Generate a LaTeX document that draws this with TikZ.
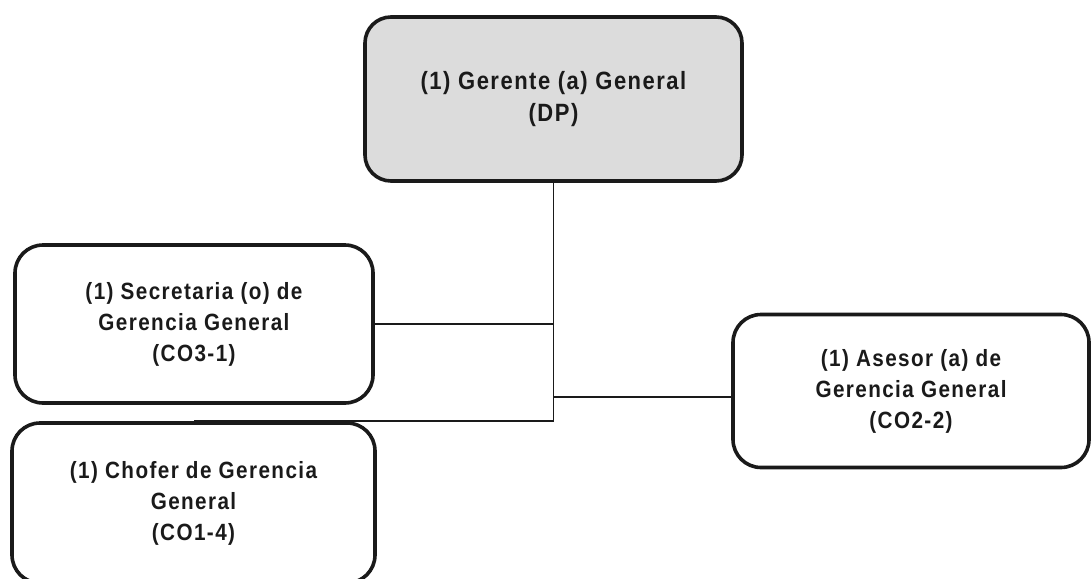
\documentclass[tikz,border=0pt]{standalone}
\usepackage{fontspec}
\newfontfamily\lab{Liberation Sans}[LetterSpace=6,FakeStretch=0.88]
\definecolor{boxgray}{HTML}{DCDCDC}
\definecolor{ink}{HTML}{1A1A1A}
\begin{document}
\begin{tikzpicture}[x=1pt,y=-1pt,
  orgbox/.style={draw=ink, line width=3.6pt, rounded corners=28pt, align=center,
    inner sep=0pt, font=\lab\bfseries\fontsize{23.5}{31}\selectfont, text=ink},
  conn/.style={draw=ink, line width=1.8pt}]
\useasboundingbox (0,0) rectangle (1091,578);
\clip (0,0) rectangle (1091,578);
\fill[white] (0,0) rectangle (1091,578);
\node[orgbox, fill=boxgray, minimum width=377pt, minimum height=164pt,
  rounded corners=26pt, font=\lab\bfseries\fontsize{25}{32}\selectfont]
  (top) at (553.5,99) {(1) Gerente (a) General\\(DP)};
\node[orgbox, minimum width=358pt, minimum height=158pt]
  (sec) at (194,324) {(1) Secretaria (o) de\\Gerencia General\\(CO3-1)};
\node[orgbox, minimum width=363pt, minimum height=160pt]
  (chof) at (193.5,503) {(1) Chofer de Gerencia\\General\\(CO1-4)};
\node[orgbox, minimum width=356pt, minimum height=153pt]
  (ases) at (911,391) {(1) Asesor (a) de\\Gerencia General\\(CO2-2)};
\coordinate (jc) at (top.south |- chof.north);
\draw[conn] (top.south) -- (jc);
\draw[conn] (sec.east) -- (sec.east -| top.south);
\draw[conn] (ases.west |- 0,397) -- (top.south |- 0,397);
\draw[conn] (jc) -- (chof.north);
\end{tikzpicture}
\end{document}
